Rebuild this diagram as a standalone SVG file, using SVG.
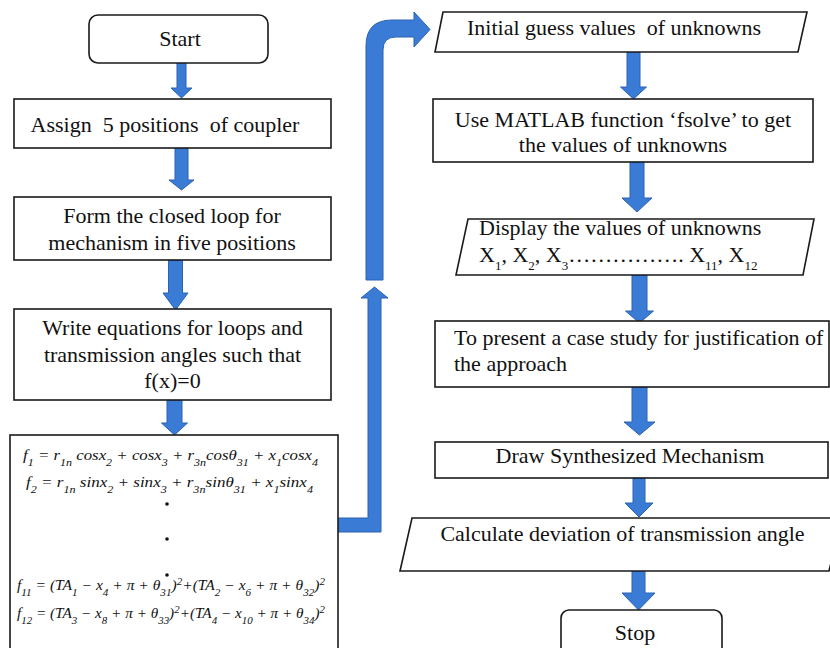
<svg xmlns="http://www.w3.org/2000/svg" width="830" height="648" viewBox="0 0 830 648">
<style>
.box{fill:#fff;stroke:#1a1a1a;stroke-width:1.6}
.t{font-family:"Liberation Serif","Times New Roman","DejaVu Serif",serif;font-size:22px;fill:#111}
.m{text-anchor:middle}
.eq{font-family:"Liberation Serif","Times New Roman","DejaVu Serif",serif;font-size:14px;font-style:italic;fill:#111}
.sb{font-size:10px;baseline-shift:sub}
.sp{font-size:10px;baseline-shift:super}
.ss{font-size:13px;baseline-shift:sub}
.arr{fill:#3a7bd5;stroke:#2b62b3;stroke-width:1}
</style>
<rect width="830" height="648" fill="#fff"/>
<g id="connectors">
<path class="arr" d="M177,57 L186,57 L186,88 L192,88 L181.5,98 L171,88 L177,88 Z"/>
<path class="arr" d="M175,148 L188,148 L188,180 L194,180 L181.5,190 L169,180 L175,180 Z"/>
<path class="arr" d="M168.5,260 L182.5,260 L182.5,293 L188,293 L175.5,310 L163,293 L168.5,293 Z"/>
<path class="arr" d="M167,400 L182,400 L182,423 L187.5,423 L174.5,435 L161.5,423 L167,423 Z"/>
<path class="arr" d="M337,518 L368,518 L368,298 L361,298 L374.5,287 L388,298 L381,298 L381,532 L337,532 Z"/>
<path class="arr" d="M366,280 L366,46 Q366,20 392,20 L414,20 L414,12 L430,29.5 L414,47 L414,37 L396,37 Q383,37 383,50 L383,280 Z"/>
<path class="arr" d="M627,52 L640,52 L640,87 L646.5,87 L633.5,99 L620.5,87 L627,87 Z"/>
<path class="arr" d="M630,162 L644,162 L644,198 L652,198 L637,212 L622,198 L630,198 Z"/>
<path class="arr" d="M632,275 L647,275 L647,311 L653.5,311 L639.5,323 L625.5,311 L632,311 Z"/>
<path class="arr" d="M632,387 L647,387 L647,422 L655,422 L639.5,435 L624,422 L632,422 Z"/>
<path class="arr" d="M633,478 L645,478 L645,503 L653,503 L639,517 L625,503 L633,503 Z"/>
<path class="arr" d="M632,571 L645,571 L645,593 L655,593 L638.5,610 L622,593 L632,593 Z"/>
</g>
<g id="start">
<rect class="box" x="89" y="15" width="179" height="48" rx="9"/>
<text class="t m" x="180" y="46">Start</text>
</g>
<g id="assign">
<rect class="box" x="14" y="99" width="317" height="49"/>
<text class="t m" x="165" y="132" xml:space="preserve">Assign  5 positions  of coupler</text>
</g>
<g id="form">
<rect class="box" x="14" y="197" width="317" height="63"/>
<text class="t m" x="172" y="223">Form the closed loop for</text>
<text class="t m" x="172" y="250">mechanism in five positions</text>
</g>
<g id="write">
<rect class="box" x="14" y="309" width="317" height="91"/>
<text class="t m" x="172.5" y="335">Write equations for loops and</text>
<text class="t m" x="172.5" y="362">transmission angles such that</text>
<text class="t m" x="172.5" y="388">f(x)=0</text>
</g>
<g id="equations">
<rect class="box" x="10" y="435" width="328" height="214"/>
<text class="eq" x="23" y="460" textLength="295" lengthAdjust="spacingAndGlyphs">f<tspan class="sb">1</tspan> = r<tspan class="sb">1n</tspan> cosx<tspan class="sb">2</tspan> + cosx<tspan class="sb">3</tspan> + r<tspan class="sb">3n</tspan>cosθ<tspan class="sb">31</tspan> + x<tspan class="sb">1</tspan>cosx<tspan class="sb">4</tspan></text>
<text class="eq" x="26" y="487" textLength="287" lengthAdjust="spacingAndGlyphs">f<tspan class="sb">2</tspan> = r<tspan class="sb">1n</tspan> sinx<tspan class="sb">2</tspan> + sinx<tspan class="sb">3</tspan> + r<tspan class="sb">3n</tspan>sinθ<tspan class="sb">31</tspan> + x<tspan class="sb">1</tspan>sinx<tspan class="sb">4</tspan></text>
<circle cx="167" cy="504" r="1.8" fill="#111"/>
<circle cx="167" cy="539" r="1.8" fill="#111"/>
<circle cx="167" cy="575" r="1.8" fill="#111"/>
<text class="eq" x="17" y="590" textLength="308" lengthAdjust="spacingAndGlyphs">f<tspan class="sb">11</tspan> = (TA<tspan class="sb">1</tspan> − x<tspan class="sb">4</tspan> + π + θ<tspan class="sb">31</tspan>)<tspan class="sp">2</tspan>+(TA<tspan class="sb">2</tspan> − x<tspan class="sb">6</tspan> + π + θ<tspan class="sb">32</tspan>)<tspan class="sp">2</tspan></text>
<text class="eq" x="17" y="618" textLength="308" lengthAdjust="spacingAndGlyphs">f<tspan class="sb">12</tspan> = (TA<tspan class="sb">3</tspan> − x<tspan class="sb">8</tspan> + π + θ<tspan class="sb">33</tspan>)<tspan class="sp">2</tspan>+(TA<tspan class="sb">4</tspan> − x<tspan class="sb">10</tspan> + π + θ<tspan class="sb">34</tspan>)<tspan class="sp">2</tspan></text>
</g>
<g id="initial">
<polygon class="box" points="443,12 807,12 798,52 435,52"/>
<text class="t m" x="614" y="35" xml:space="preserve">Initial guess values  of unknowns</text>
</g>
<g id="fsolve">
<rect class="box" x="433" y="99" width="380" height="63"/>
<text class="t m" x="623" y="127">Use MATLAB function ‘fsolve’ to get</text>
<text class="t m" x="623" y="152">the values of unknowns</text>
</g>
<g id="display">
<polygon class="box" points="468,219 814,219 803,275 456,275"/>
<text class="t" x="479" y="235">Display the values of unknowns</text>
<text class="t" x="479" y="262">X<tspan class="ss">1</tspan>, X<tspan class="ss">2</tspan>, X<tspan class="ss">3</tspan>……………. X<tspan class="ss">11</tspan>, X<tspan class="ss">12</tspan></text>
</g>
<g id="casestudy">
<rect class="box" x="435" y="321" width="394" height="66"/>
<text class="t" x="454" y="345">To present a case study for justification of</text>
<text class="t" x="454" y="371">the approach</text>
</g>
<g id="draw">
<rect class="box" x="435" y="442" width="393" height="36"/>
<text class="t m" x="630" y="463">Draw Synthesized Mechanism</text>
</g>
<g id="deviation">
<polygon class="box" points="412,518 842,518 829,571 400,571"/>
<text class="t m" x="622.5" y="541">Calculate deviation of transmission angle</text>
</g>
<g id="stop">
<rect class="box" x="561" y="610" width="161" height="60" rx="8"/>
<text class="t m" x="635" y="640">Stop</text>
</g>
</svg>
